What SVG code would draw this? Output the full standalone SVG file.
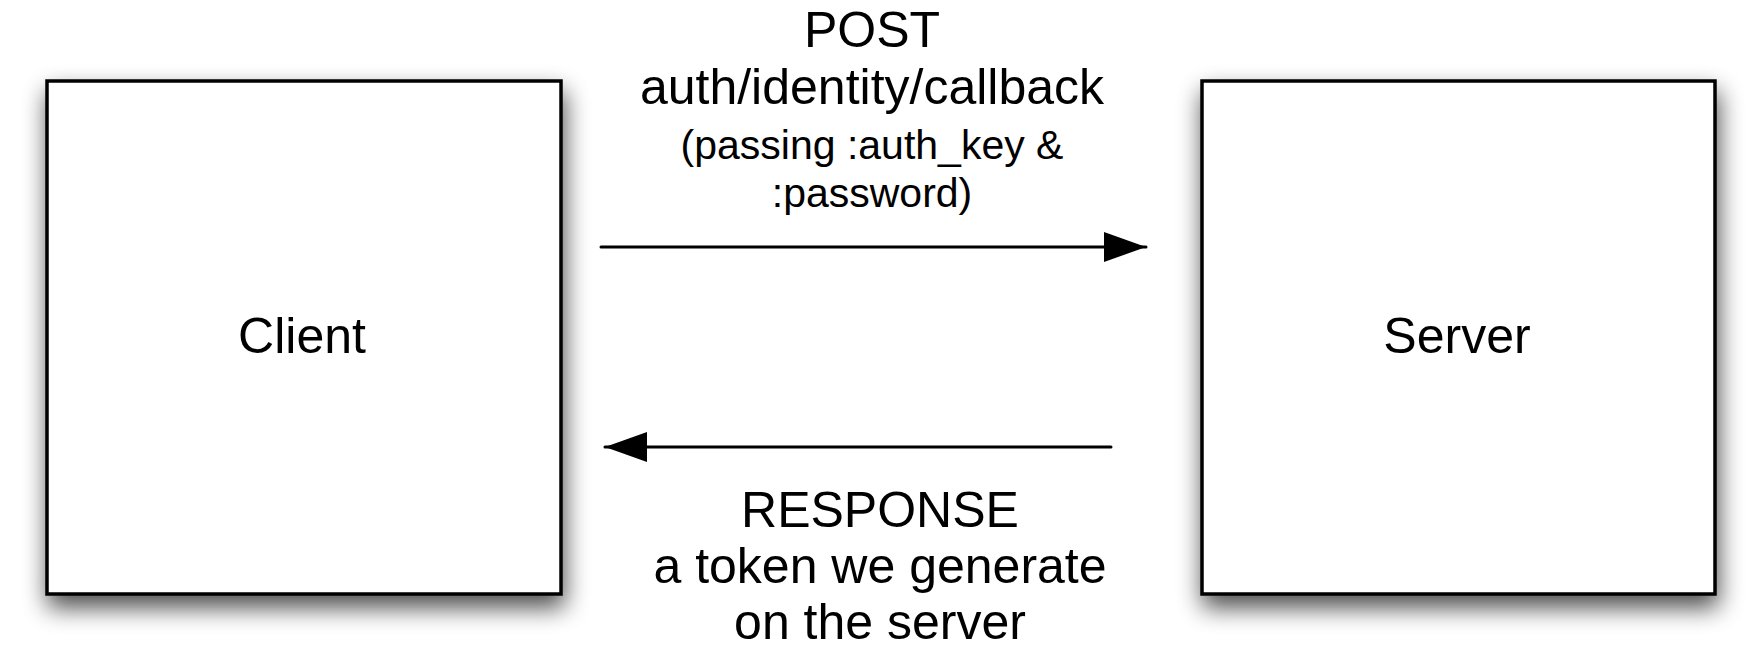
<svg xmlns="http://www.w3.org/2000/svg" width="1758" height="654" viewBox="0 0 1758 654">
<style>
.box{fill:#fff;stroke:#000;stroke-width:3.5}
.t{font-family:"Liberation Sans",Arial,sans-serif;fill:#000;text-anchor:middle}
.big{font-size:50px}
.small{font-size:41px}
.conn{stroke:#000;stroke-width:3;fill:none;stroke-linecap:round}
</style>
<defs>
<filter id="sh" x="-25%" y="-25%" width="150%" height="150%">
<feGaussianBlur in="SourceAlpha" stdDeviation="12"/>
<feOffset dx="2" dy="12" result="b"/>
<feComponentTransfer><feFuncA type="linear" slope="0.7"/></feComponentTransfer>
<feMerge><feMergeNode/><feMergeNode in="SourceGraphic"/></feMerge>
</filter>
<marker id="ah" markerWidth="14" markerHeight="10" refX="14" refY="5" orient="auto" markerUnits="strokeWidth" viewBox="0 0 14 10">
<path d="M0,0 L14,5 L0,10 Z" fill="#000"/>
</marker>
</defs>
<rect width="1758" height="654" fill="#fff"/>
<g id="client">
<rect class="box" x="47" y="81" width="514" height="513" filter="url(#sh)"/>
<text class="t big" x="302" y="353">Client</text>
</g>
<g id="server">
<rect class="box" x="1202" y="81" width="513" height="513" filter="url(#sh)"/>
<text class="t big" x="1457" y="353">Server</text>
</g>
<g id="connectors">
<line class="conn" x1="601" y1="247" x2="1146" y2="247" marker-end="url(#ah)"/>
<line class="conn" x1="1111" y1="447" x2="605" y2="447" marker-end="url(#ah)"/>
</g>
<g id="labels">
<text class="t big" x="872" y="47">POST</text>
<text class="t big" x="872" y="104">auth/identity/callback</text>
<text class="t small" x="872" y="159">(passing :auth_key &amp;</text>
<text class="t small" x="872" y="207">:password)</text>
<text class="t big" x="880" y="527">RESPONSE</text>
<text class="t big" x="880" y="583">a token we generate</text>
<text class="t big" x="880" y="639">on the server</text>
</g>
</svg>
